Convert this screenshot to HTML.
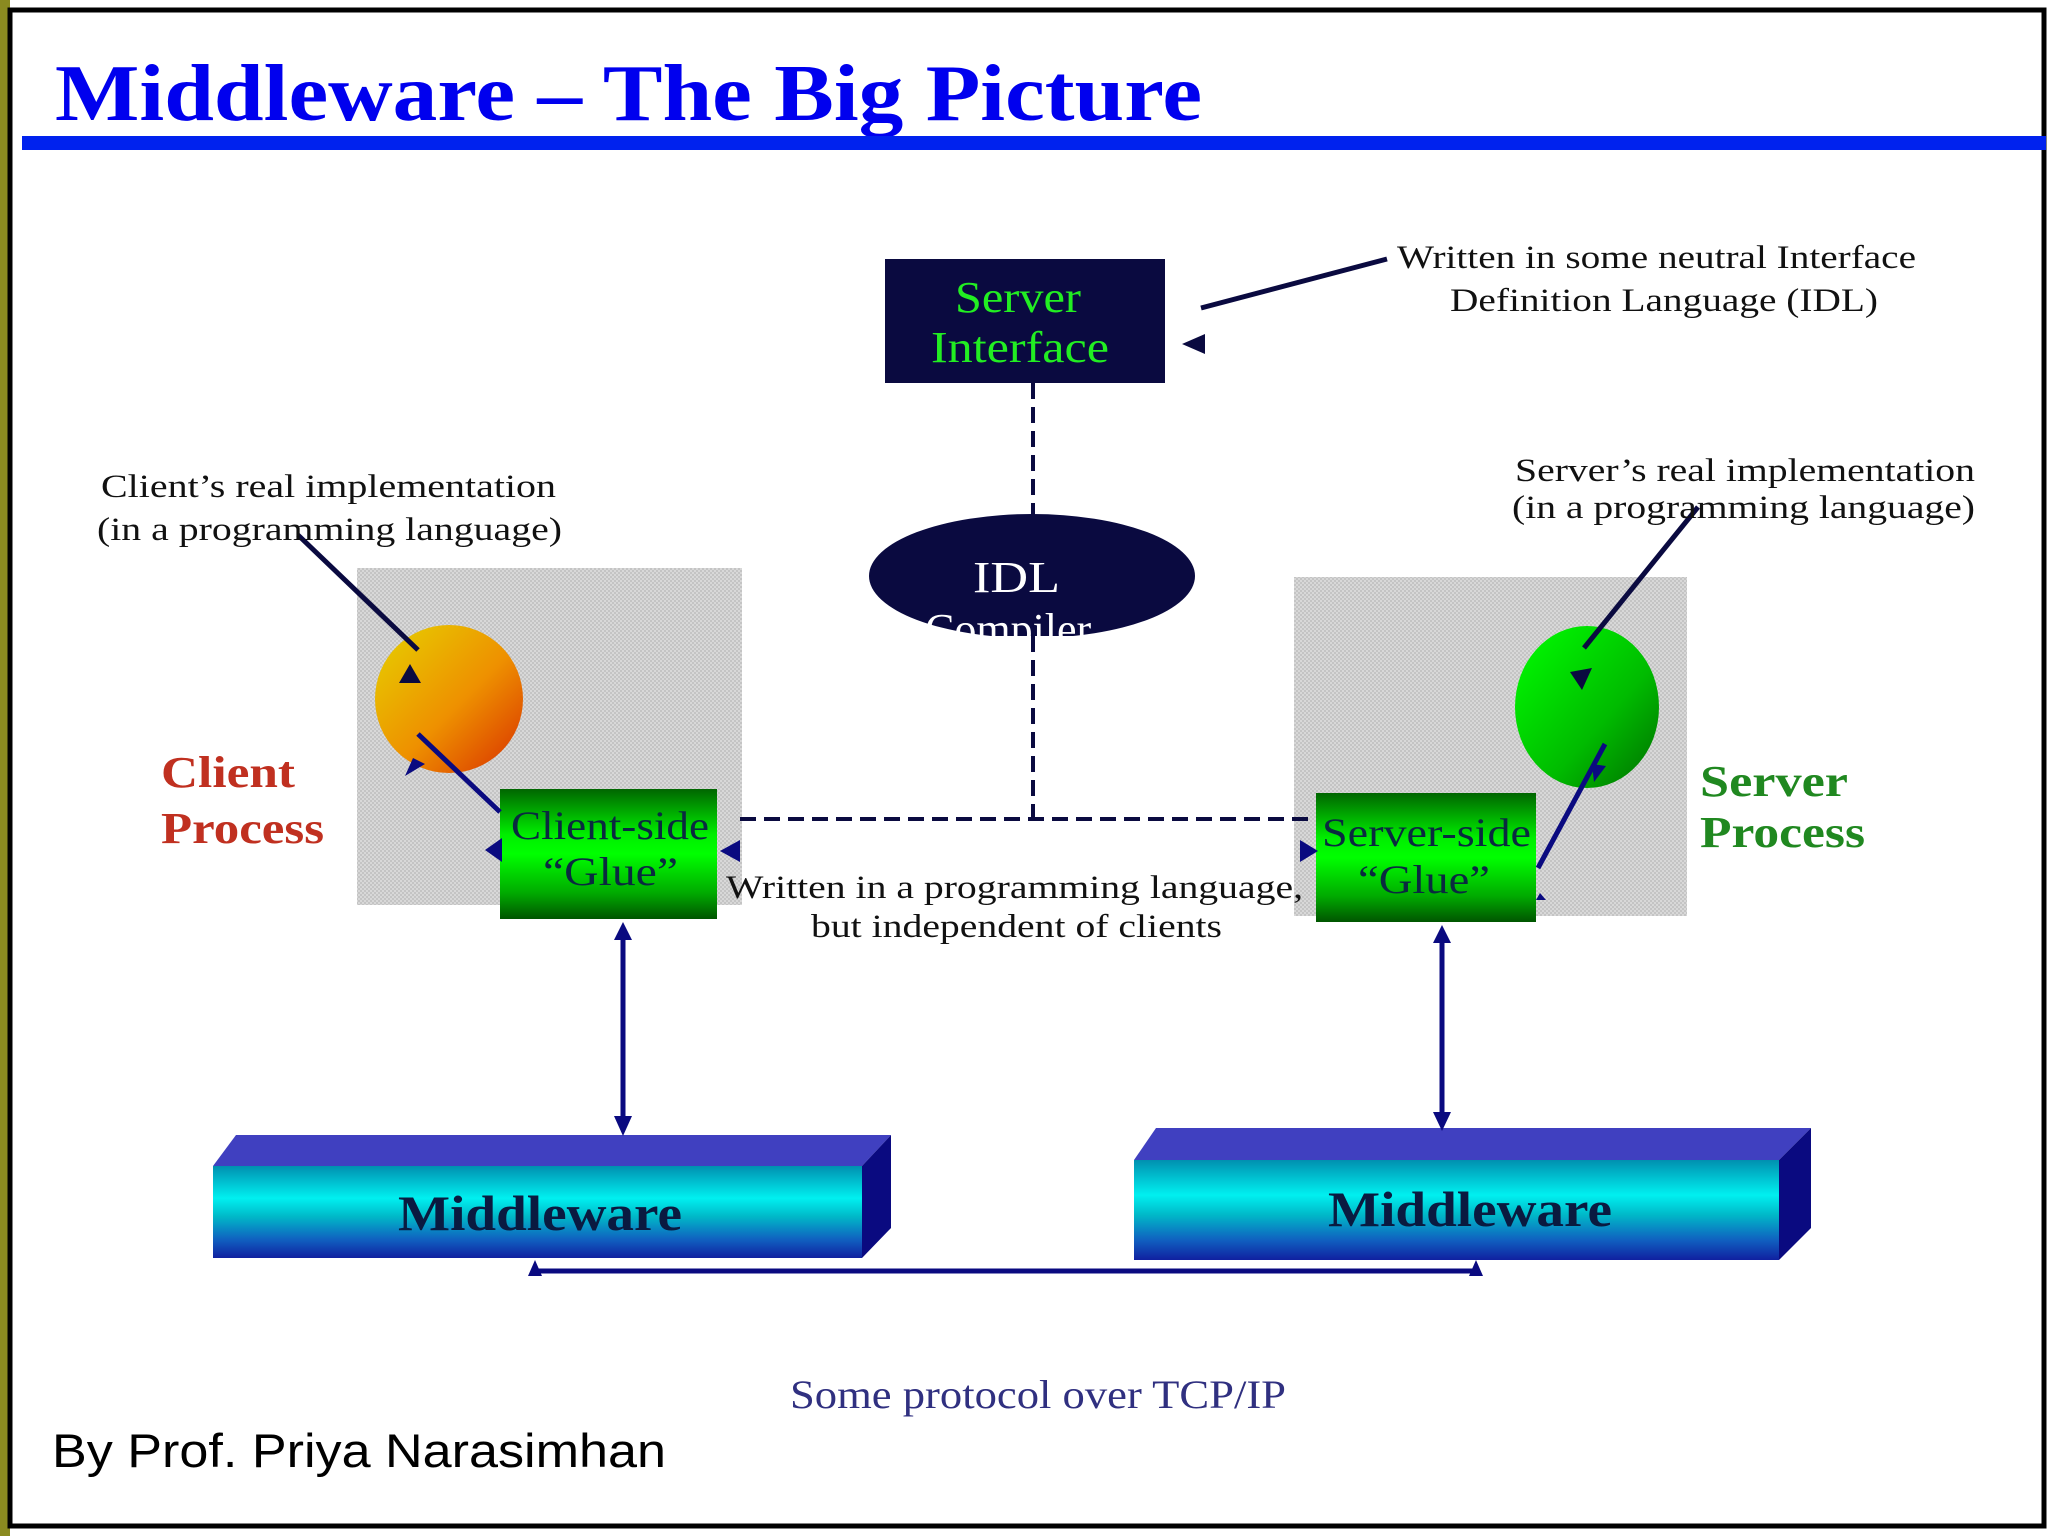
<!DOCTYPE html>
<html><head><meta charset="utf-8"><style>
html,body{margin:0;padding:0;background:#fff;}
svg{display:block;}
text{font-family:"Liberation Serif",serif;}
</style></head><body>
<svg width="2048" height="1536" viewBox="0 0 2048 1536" xmlns="http://www.w3.org/2000/svg">
<defs>
<pattern id="chk" width="4" height="4" patternUnits="userSpaceOnUse">
<rect width="4" height="4" fill="#c4c4c4"/><rect width="2" height="2" fill="#d8d8d8"/><rect x="2" y="2" width="2" height="2" fill="#d8d8d8"/>
</pattern>
<linearGradient id="glue" x1="0" y1="0" x2="0" y2="1">
<stop offset="0" stop-color="#006600"/><stop offset="0.35" stop-color="#00ee00"/><stop offset="0.5" stop-color="#00ff00"/><stop offset="0.8" stop-color="#00aa00"/><stop offset="1" stop-color="#005500"/>
</linearGradient>
<linearGradient id="mw" x1="0" y1="0" x2="0" y2="1">
<stop offset="0" stop-color="#0090b0"/><stop offset="0.35" stop-color="#00f0f0"/><stop offset="0.55" stop-color="#00b8c8"/><stop offset="0.8" stop-color="#1060c0"/><stop offset="1" stop-color="#1020a0"/>
</linearGradient>
<linearGradient id="orng" x1="0" y1="0" x2="1" y2="1">
<stop offset="0.15" stop-color="#e8c000"/><stop offset="0.55" stop-color="#ee9000"/><stop offset="0.9" stop-color="#dd4400"/>
</linearGradient>
<linearGradient id="grn" x1="0" y1="0" x2="1" y2="1">
<stop offset="0.15" stop-color="#00ee00"/><stop offset="0.6" stop-color="#00bb00"/><stop offset="0.95" stop-color="#007700"/>
</linearGradient>
<clipPath id="ec"><rect x="860" y="510" width="340" height="126"/></clipPath>
</defs>
<rect x="0" y="0" width="10" height="1536" fill="#8a8a20"/>
<rect x="10" y="10" width="2034" height="1516" fill="#fff" stroke="#000" stroke-width="5"/>
<text x="55" y="120" font-size="81" font-weight="bold" fill="#0000ee" textLength="1147" lengthAdjust="spacingAndGlyphs">Middleware – The Big Picture</text>
<rect x="22" y="136" width="2024" height="14" fill="#0022ee"/>

<rect x="357" y="568" width="385" height="337" fill="url(#chk)"/>
<rect x="1294" y="577" width="393" height="339" fill="url(#chk)"/>

<g stroke="#0a0a40" stroke-width="4" stroke-dasharray="16,8" fill="none">
<line x1="1033" y1="383" x2="1033" y2="515"/>
<line x1="1033" y1="636" x2="1033" y2="819"/>
<line x1="740" y1="819" x2="1314" y2="819"/>
</g>

<rect x="885" y="259" width="280" height="124" fill="#0a0a40"/>
<text x="955" y="312" font-size="44" fill="#22ee22" textLength="126" lengthAdjust="spacingAndGlyphs">Server</text>
<text x="931" y="362" font-size="44" fill="#22ee22" textLength="178" lengthAdjust="spacingAndGlyphs">Interface</text>

<g clip-path="url(#ec)">
<ellipse cx="1032" cy="576" rx="163" ry="62" fill="#0a0a40"/>
<text x="973" y="592" font-size="44" fill="#fff" textLength="87" lengthAdjust="spacingAndGlyphs">IDL</text>
<text x="925" y="644" font-size="44" fill="#fff">Compiler</text>
</g>

<circle cx="449" cy="699" r="74" fill="url(#orng)"/>
<ellipse cx="1587" cy="707" rx="72" ry="81" fill="url(#grn)"/>

<rect x="500" y="789" width="217" height="130" fill="url(#glue)"/>
<text x="511" y="839" font-size="40" fill="#0a2a40" textLength="198" lengthAdjust="spacingAndGlyphs">Client-side</text>
<text x="543" y="885" font-size="40" fill="#0a2a40" textLength="135" lengthAdjust="spacingAndGlyphs">“Glue”</text>
<rect x="1316" y="793" width="220" height="129" fill="url(#glue)"/>
<text x="1322" y="846" font-size="40" fill="#0a2a40" textLength="209" lengthAdjust="spacingAndGlyphs">Server-side</text>
<text x="1358" y="893" font-size="40" fill="#0a2a40" textLength="132" lengthAdjust="spacingAndGlyphs">“Glue”</text>

<polygon points="213,1166 236,1135 891,1135 862,1166" fill="#4040c0"/>
<polygon points="862,1166 891,1135 891,1228 862,1258" fill="#0a0a80"/>
<rect x="213" y="1166" width="649" height="92" fill="url(#mw)"/>
<text x="398" y="1230" font-size="50" font-weight="bold" fill="#0a1a40" textLength="284" lengthAdjust="spacingAndGlyphs">Middleware</text>
<polygon points="1134,1160 1156,1128 1811,1128 1779,1160" fill="#4040c0"/>
<polygon points="1779,1160 1811,1128 1811,1228 1779,1260" fill="#0a0a80"/>
<rect x="1134" y="1160" width="645" height="100" fill="url(#mw)"/>
<text x="1328" y="1226" font-size="50" font-weight="bold" fill="#0a1a40" textLength="284" lengthAdjust="spacingAndGlyphs">Middleware</text>

<g stroke="#0a0a80" stroke-width="5" fill="none">
<line x1="623" y1="935" x2="623" y2="1122"/>
<line x1="1442" y1="938" x2="1442" y2="1118"/>
<line x1="535" y1="1271" x2="1476" y2="1271"/>
<line x1="500" y1="812" x2="418" y2="734"/>
<line x1="1538" y1="868" x2="1605" y2="744"/>
</g>
<g fill="#0a0a80">
<polygon points="623,922 614,940 632,940"/>
<polygon points="623,1136 614,1116 632,1116"/>
<polygon points="1442,925 1433,943 1451,943"/>
<polygon points="1442,1131 1433,1112 1451,1112"/>
<polygon points="535,1260 528,1276 542,1276"/>
<polygon points="1476,1260 1469,1276 1483,1276"/>
<polygon points="405,776 425,764 413,758"/>
<polygon points="485,850 502,838 502,862"/>
<polygon points="1594,782 1606,766 1592,764"/>
<polygon points="1540,893 1546,900 1536,900"/>
<polygon points="720,851 740,840 740,862"/>
<polygon points="1318,851 1300,840 1300,862"/>
</g>
<g stroke="#0a0a40" stroke-width="5" fill="none">
<line x1="298" y1="535" x2="418" y2="650"/>
<line x1="1387" y1="259" x2="1201" y2="308"/>
<line x1="1698" y1="507" x2="1584" y2="648"/>
</g>
<g fill="#0a0a40">
<polygon points="410,664 399,683 421,683"/>
<polygon points="1182,344 1205,334 1205,354"/>
<polygon points="1582,690 1570,672 1592,668"/>
</g>

<text x="161" y="787" font-size="44" font-weight="bold" fill="#c03020" textLength="134" lengthAdjust="spacingAndGlyphs">Client</text>
<text x="161" y="843" font-size="44" font-weight="bold" fill="#c03020" textLength="163" lengthAdjust="spacingAndGlyphs">Process</text>
<text x="1700" y="796" font-size="44" font-weight="bold" fill="#208820" textLength="148" lengthAdjust="spacingAndGlyphs">Server</text>
<text x="1700" y="847" font-size="44" font-weight="bold" fill="#208820" textLength="165" lengthAdjust="spacingAndGlyphs">Process</text>

<g font-size="33" fill="#111">
<text x="101" y="497" textLength="455" lengthAdjust="spacingAndGlyphs">Client’s real implementation</text>
<text x="97" y="540" textLength="465" lengthAdjust="spacingAndGlyphs">(in a programming language)</text>
<text x="1515" y="481" textLength="460" lengthAdjust="spacingAndGlyphs">Server’s real implementation</text>
<text x="1512" y="518" textLength="463" lengthAdjust="spacingAndGlyphs">(in a programming language)</text>
<text x="1397" y="268" textLength="519" lengthAdjust="spacingAndGlyphs">Written in some neutral Interface</text>
<text x="1450" y="311" textLength="428" lengthAdjust="spacingAndGlyphs">Definition Language (IDL)</text>
<text x="726" y="898" textLength="577" lengthAdjust="spacingAndGlyphs">Written in a programming language,</text>
<text x="811" y="937" textLength="411" lengthAdjust="spacingAndGlyphs">but independent of clients</text>
</g>
<text x="790" y="1408" font-size="40" fill="#303080" textLength="496" lengthAdjust="spacingAndGlyphs">Some protocol over TCP/IP</text>
<text x="52" y="1467" font-size="47" fill="#000" style="font-family:'Liberation Sans',sans-serif" textLength="614" lengthAdjust="spacingAndGlyphs">By Prof. Priya Narasimhan</text>
</svg>
</body></html>
